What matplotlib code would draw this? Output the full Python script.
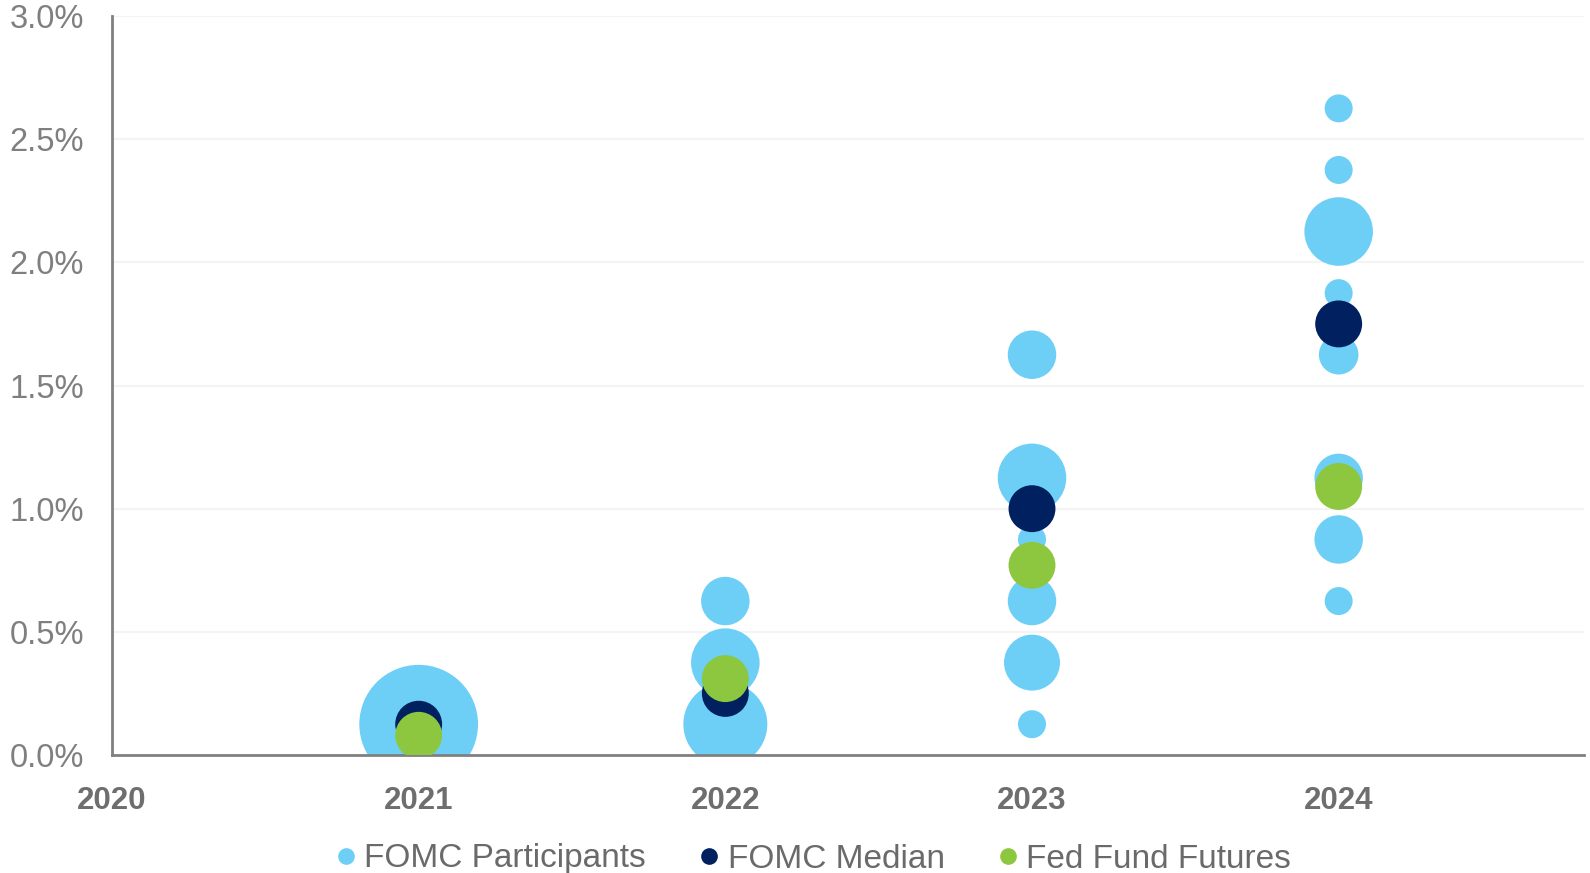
import matplotlib
matplotlib.use("Agg")
import matplotlib.pyplot as plt
from matplotlib.lines import Line2D
from matplotlib.ticker import FuncFormatter, MultipleLocator

plt.rcParams['font.family'] = ['Liberation Sans', 'DejaVu Sans']

# ---- data ----
part_years = [2021, 2022, 2022, 2022,
              2023, 2023, 2023, 2023, 2023, 2023,
              2024, 2024, 2024, 2024, 2024, 2024, 2024, 2024]
part_rates = [0.125, 0.125, 0.375, 0.625,
              0.125, 0.375, 0.625, 0.875, 1.125, 1.625,
              0.625, 0.875, 1.125, 1.625, 1.875, 2.125, 2.375, 2.625]
part_counts = [18, 9, 6, 3,
               1, 4, 3, 1, 6, 3,
               1, 3, 3, 2, 1, 6, 1, 1]

median_years = [2021, 2022, 2023, 2024]
median_rates = [0.125, 0.25, 1.0, 1.75]

futures_years = [2021, 2022, 2023, 2024]
futures_rates = [0.08, 0.31, 0.77, 1.09]

x_ticks = [2020, 2021, 2022, 2023, 2024]
legend_labels = ["FOMC Participants", "FOMC Median", "Fed Fund Futures"]

c_part = "#6DCFF6"
c_med = "#002060"
c_fut = "#8DC63F"
grey = "#7F7F7F"

fig = plt.figure(figsize=(15.9, 8.73), dpi=100)
ax = fig.add_axes([112/1590, 1-755/873, (1584-112)/1590, (755-16)/873])

unit = 406  # points^2 per participant
ax.scatter(part_years, part_rates, s=[unit*n for n in part_counts],
           color=c_part, edgecolors='none', zorder=2)
ax.scatter(median_years, median_rates, s=1140, color=c_med,
           edgecolors='none', zorder=3)
ax.scatter(futures_years, futures_rates, s=1140, color=c_fut,
           edgecolors='none', zorder=4)

ax.set_xlim(2020, 2024.8)
ax.set_ylim(0, 3.0)
ax.set_xticks(x_ticks)
ax.set_xticklabels([str(t) for t in x_ticks], fontsize=22.5,
                   fontweight='bold', color='#6E6E6E')
ax.yaxis.set_major_locator(MultipleLocator(0.5))
ax.yaxis.set_major_formatter(FuncFormatter(lambda v, p: f"{v:.1f}%"))
ax.tick_params(axis='y', length=0, pad=20, labelsize=23.5, labelcolor=grey)
ax.tick_params(axis='x', length=0, pad=22)

ax.grid(axis='y', color='#F4F4F4', linewidth=1.5, zorder=0)
ax.set_axisbelow(True)
for s in ['top', 'right']:
    ax.spines[s].set_visible(False)
for s in ['left', 'bottom']:
    ax.spines[s].set_color('#808080')
    ax.spines[s].set_linewidth(2)

handles = [Line2D([], [], marker='o', linestyle='none', markersize=12,
                  markerfacecolor=c, markeredgecolor='none')
           for c in (c_part, c_med, c_fut)]
leg = fig.legend(handles, legend_labels, loc='center',
                 bbox_to_anchor=(812/1590, 1-859/873), ncol=3, frameon=False,
                 fontsize=24, handletextpad=0.15, columnspacing=1.5,
                 handlelength=0.8)
for t in leg.get_texts():
    t.set_color('#6A6A6A')

fig.savefig("out.png", dpi=100, facecolor='white')
